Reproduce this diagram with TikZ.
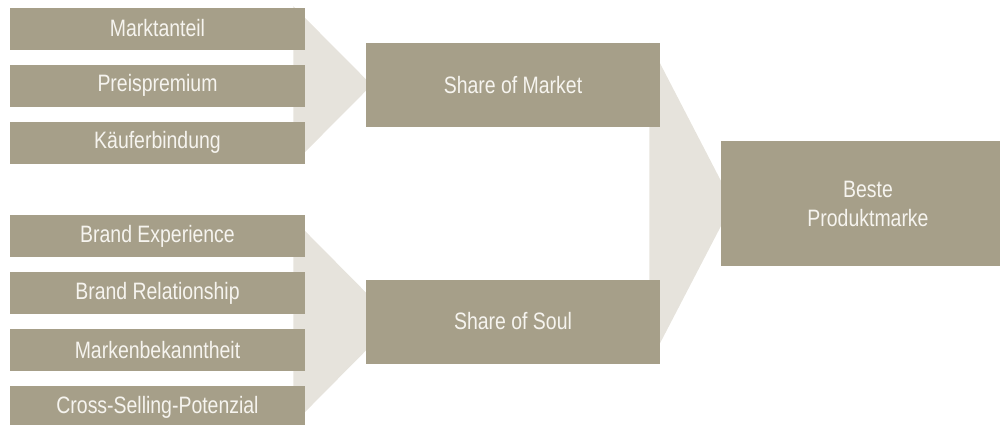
\documentclass[tikz,border=0pt]{standalone}
\usepackage{fontspec}
\setmainfont{Liberation Sans}[FakeStretch=0.82]
\usetikzlibrary{backgrounds}
\definecolor{boxtaupe}{RGB}{166,159,137}
\definecolor{funnelgray}{RGB}{230,227,220}
\definecolor{boxtext}{RGB}{246,244,239}
\tikzset{
    itembox/.style={fill=boxtaupe,text=boxtext,minimum width=5.9cm,minimum height=0.84cm,inner sep=0pt},
    sharebox/.style={fill=boxtaupe,text=boxtext,minimum width=5.88cm,minimum height=1.68cm,inner sep=0pt},
    goalbox/.style={fill=boxtaupe,text=boxtext,minimum width=5.88cm,minimum height=2.5cm,inner sep=0pt,align=center},
    funnel/.style={fill=funnelgray}
}
\begin{document}
\begin{tikzpicture}[x=0.02cm,y=-0.02cm,font=\fontsize{13.5}{16.5}\selectfont]
        \useasboundingbox (0,0) rectangle (1000,424);
        \begin{scope}[every node/.style={itembox}]
            \node (MA) at (157.5,28.5) {Marktanteil};
            \node (PP) at (157.5,85.5) {Preispremium};
            \node (KB) at (157.5,142.5) {Käuferbindung};
            \node (BE) at (157.5,236) {Brand Experience};
            \node (BR) at (157.5,293) {Brand Relationship};
            \node (MB) at (157.5,350) {Markenbekanntheit};
            \node (CS) at (157.5,407) {Cross-Selling-Potenzial};
        \end{scope}
        \node[sharebox] (SM) at (513,85) {Share of Market};
        \node[sharebox] (SS) at (513,321.5) {Share of Soul};
        \node[goalbox] (BP) at (868,203.5) {Beste\\Produktmarke};
        % funnels behind the boxes
        \begin{scope}[on background layer]
            \fill[funnel] ([xshift=-0.24cm,yshift=0.02cm]MA.north east) -- ([xshift=0.12cm]SM.west) -- ([xshift=-0.24cm]KB.south east) -- cycle;
            \fill[funnel] ([xshift=-0.24cm,yshift=-0.09cm]BE.north east) -- ([xshift=0.58cm]SS.west) -- ([xshift=-0.24cm,yshift=0.09cm]CS.south east) -- cycle;
            \fill[funnel] ([xshift=-0.22cm]SM.north east) -- ([xshift=0.24cm]BP.west) -- ([xshift=-0.22cm]SS.south east) -- cycle;
        \end{scope}
    \end{tikzpicture}
\end{document}
